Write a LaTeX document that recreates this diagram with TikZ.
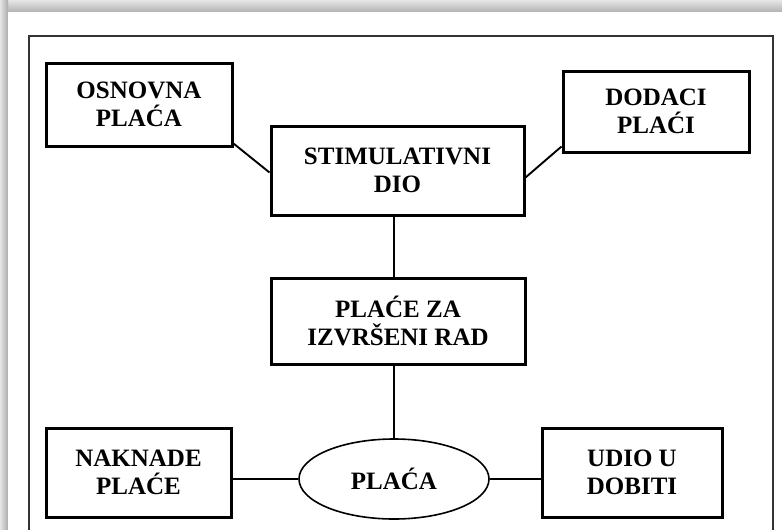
\documentclass[tikz,border=0pt]{standalone}
\usepackage{fontspec}
\setmainfont{Liberation Serif}
\usetikzlibrary{shapes.geometric,calc}
\begin{document}
\begin{tikzpicture}[x=1pt,y=-1pt,
  lbl/.style={align=center,font=\fontsize{25}{28}\selectfont\bfseries,inner sep=0pt},
  box/.style={lbl,draw=black,line width=3pt},
  oval/.style={lbl,draw=black,ellipse,line width=1.6pt},
  link/.style={draw=black,line width=1.9pt}]
\useasboundingbox (0,0) rectangle (782,530);
% shadow bands and page
\fill[white] (0,0) rectangle (782,530);
\shade[top color=gray!20,bottom color=gray!60] (0,0) rectangle (782,12);
\shade[left color=gray!20,right color=gray!65] (0,0) rectangle (8,530);
\fill[white] (8,12) rectangle (782,530);
% outer frame
\draw[gray!40!black,line width=1.2pt] (29,540) -- (29,36) -- (773,36) -- (773,540);
% nodes
\node[box,minimum width=186pt,minimum height=83pt] (osn) at (139,104.5) {OSNOVNA\\PLAĆA};
\node[box,minimum width=186pt,minimum height=81pt] (dod) at (656,111.5) {DODACI\\PLAĆI};
\node[box,minimum width=253pt,minimum height=89pt] (stim) at (397.5,170.5) {STIMULATIVNI\\DIO};
\node[box,minimum width=254pt,minimum height=86pt] (plc) at (398,321) {PLAĆE ZA\\IZVRŠENI RAD};
\node[box,minimum width=185pt,minimum height=89pt] (nak) at (138.5,472.5) {NAKNADE\\PLAĆE};
\node[box,minimum width=180pt,minimum height=89pt] (udio) at (632,472.5) {UDIO U\\DOBITI};
\node[oval,minimum width=190pt,minimum height=80pt] (ell) at (394,479) {PLAĆA};
% connectors
\draw[link] ($(osn.south east)+(0,-4)$) -- ($(stim.west)+(0,2)$);
\draw[link] ($(dod.south west)+(0,-7)$) -- ($(stim.east)+(0,7)$);
\draw[link] (stim.south -| ell.north) -- (plc.north -| ell.north);
\draw[link] (plc.south -| ell.north) -- (ell.north);
\draw[link] (ell.west) -- (ell.west -| nak.east);
\draw[link] (ell.east) -- (ell.east -| udio.west);
\end{tikzpicture}
\end{document}
